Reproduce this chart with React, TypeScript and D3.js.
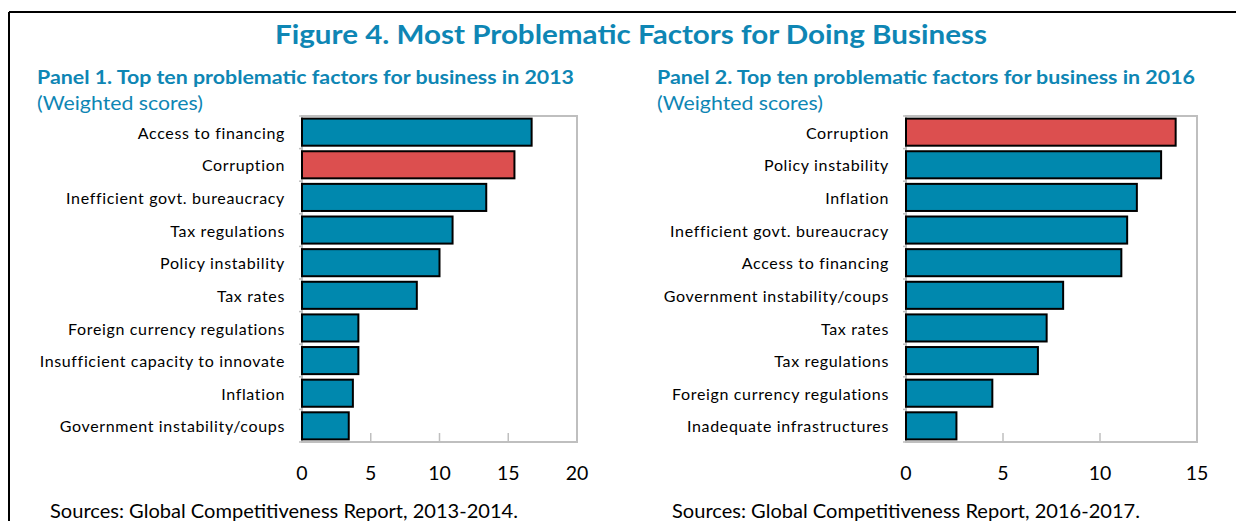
import React from "react";
import * as d3 from "d3";

const categories2013 = [
  "Access to financing",
  "Corruption",
  "Inefficient govt. bureaucracy",
  "Tax regulations",
  "Policy instability",
  "Tax rates",
  "Foreign currency regulations",
  "Insufficient capacity to innovate",
  "Inflation",
  "Government instability/coups",
];
const values2013 = [16.7, 15.45, 13.4, 10.95, 10.0, 8.35, 4.1, 4.1, 3.7, 3.4];

const categories2016 = [
  "Corruption",
  "Policy instability",
  "Inflation",
  "Inefficient govt. bureaucracy",
  "Access to financing",
  "Government instability/coups",
  "Tax rates",
  "Tax regulations",
  "Foreign currency regulations",
  "Inadequate infrastructures",
];
const values2016 = [13.9, 13.15, 11.9, 11.4, 11.1, 8.1, 7.25, 6.8, 4.45, 2.6];

const ticks2013 = [0, 5, 10, 15, 20];
const ticks2016 = [0, 5, 10, 15];

const TEAL = "#0088AE";
const RED = "#DC4F4F";
const BLUE_TEXT = "#0E86B4";
const FRAME = "#BFBFBF";
const FONT = "Lato, 'Open Sans', sans-serif";

type PanelProps = {
  title: string;
  titleWidth: number;
  source: string;
  cats: string[];
  vals: number[];
  ticks: number[];
  x0: number;
  x1: number;
  titleX: number;
  sourceX: number;
};

function Panel({ title, titleWidth, source, cats, vals, ticks, x0, x1, titleX, sourceX }: PanelProps) {
  const top = 116;
  const bottom = 442;
  const xs = d3.scaleLinear().domain([0, ticks[ticks.length - 1]]).range([x0, x1]);
  const ys = d3.scaleBand<string>().domain(cats).range([top, bottom]).paddingInner(0.17).paddingOuter(0.08);
  const step = (bottom - top) / cats.length;
  return (
    <g>
      <text x={titleX} y={84} fill={BLUE_TEXT} fontFamily={FONT} fontWeight={700} fontSize={19}
        textLength={titleWidth} lengthAdjust="spacingAndGlyphs">{title}</text>
      <text x={titleX} y={110} fill={BLUE_TEXT} fontFamily={FONT} fontSize={19}
        textLength={166} lengthAdjust="spacingAndGlyphs">(Weighted scores)</text>
      <rect x={x0} y={top} width={x1 - x0} height={bottom - top} fill="#fff" stroke={FRAME} strokeWidth={2} />
      {ticks.slice(1, -1).map((t) => (
        <line key={t} x1={xs(t)} x2={xs(t)} y1={bottom} y2={bottom - 9} stroke={FRAME} strokeWidth={1.5} />
      ))}
      {d3.range(cats.length + 1).map((i) => (
        <line key={"yt" + i} x1={x0 - 3} x2={x0} y1={top + i * step} y2={top + i * step} stroke={FRAME} strokeWidth={1.5} />
      ))}
      {cats.map((c, i) => (
        <rect key={c} x={xs(0)} y={ys(c)!} width={xs(vals[i]) - xs(0)} height={ys.bandwidth()}
          fill={c === "Corruption" ? RED : TEAL} stroke="#000" strokeWidth={2} />
      ))}
      {cats.map((c) => (
        <text key={"l" + c} x={x0 - 17} y={ys(c)! + ys.bandwidth() / 2 + 1} dy="0.35em" textAnchor="end"
          fontFamily={FONT} fontSize={16} letterSpacing={0.65} fill="#000">{c}</text>
      ))}
      {ticks.map((t) => (
        <text key={"t" + t} x={xs(t)} y={480} textAnchor="middle" fontFamily={FONT} fontSize={19.5} fill="#000">{t}</text>
      ))}
      <text x={sourceX} y={518} fontFamily={FONT} fontSize={19} fill="#000"
        textLength={468} lengthAdjust="spacingAndGlyphs">{source}</text>
    </g>
  );
}

export default function App() {
  return (
    <svg width={1236} height={521} style={{ position: "absolute", left: 0, top: 0, background: "#fff" }}>
      <rect x={0} y={0} width={1236} height={521} fill="#fff" />
      <line x1={9} x2={1236} y1={12} y2={12} stroke="#000" strokeWidth={2} />
      <line x1={9} x2={9} y1={12} y2={521} stroke="#000" strokeWidth={2} />
      <text x={631} y={44} textAnchor="middle" fill={BLUE_TEXT} fontFamily={FONT} fontWeight={700} fontSize={26}
        textLength={712} lengthAdjust="spacingAndGlyphs">Figure 4. Most Problematic Factors for Doing Business</text>
      <Panel title="Panel 1. Top ten problematic factors for business in 2013" titleWidth={537}
        source="Sources: Global Competitiveness Report, 2013-2014."
        cats={categories2013} vals={values2013} ticks={ticks2013} x0={302} x1={577} titleX={37} sourceX={50} />
      <Panel title="Panel 2. Top ten problematic factors for business in 2016" titleWidth={538}
        source="Sources: Global Competitiveness Report, 2016-2017."
        cats={categories2016} vals={values2016} ticks={ticks2016} x0={906} x1={1197} titleX={657} sourceX={672} />
    </svg>
  );
}
